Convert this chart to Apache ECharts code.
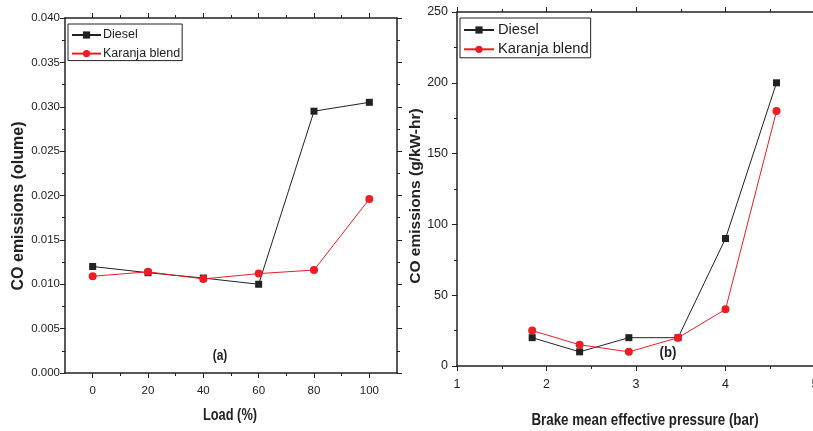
<!DOCTYPE html>
<html>
<head>
<meta charset="utf-8">
<script src="https://cdn.jsdelivr.net/npm/echarts@6/dist/echarts.min.js"></script>
<style>
  html, body { margin: 0; padding: 0; background: #fff; }
  #chart { width: 813px; height: 431px; }
</style>
</head>
<body>
<div id="chart"></div>
<script>
// Panel (a): CO emissions against engine load
const loadPct = [0, 20, 40, 60, 80, 100];
const coDieselA = [0.0120, 0.0113, 0.0107, 0.0100, 0.0295, 0.0305];
const coKaranjaA = [0.0109, 0.0114, 0.0106, 0.0112, 0.0116, 0.0196];
const loadTicks = [0, 20, 40, 60, 80, 100];
const loadMinorTicks = [10, 30, 50, 70, 90];

// Panel (b): CO emissions against brake mean effective pressure
const bmep = [1.84, 2.37, 2.92, 3.47, 4.00, 4.57];
const coDieselB = [20, 10, 20, 20, 90, 200];
const coKaranjaB = [25, 15, 10, 20, 40, 180];

const seriesNames = ['Diesel', 'Karanja blend'];

const INK = '#222';
const RED = '#ee1c25';
const SANS = '"Liberation Sans", Arial, sans-serif';

const zip = (xs, ys) => xs.map((x, i) => [x, ys[i]]);

const lineAxis = { show: true, onZero: false, lineStyle: { color: INK, width: 1.5 } };
const tickStyle = { color: INK, width: 1 };
const labelStyle = { color: INK, fontFamily: SANS, fontSize: 11.5 };

const chart = echarts.init(document.getElementById('chart'), null, { renderer: 'canvas' });

chart.setOption({
  animation: false,
  backgroundColor: '#fff',
  grid: [
    { left: 65, top: 18, width: 332, height: 355, outerBoundsMode: 'none', containLabel: false },
    { left: 457, top: 12, width: 358, height: 354, outerBoundsMode: 'none', containLabel: false }
  ],
  xAxis: [
    { // (a) bottom, labelled
      gridIndex: 0, type: 'value', position: 'bottom', min: -10, max: 110,
      axisLine: lineAxis,
      axisTick: { show: true, customValues: loadTicks, length: 5, lineStyle: tickStyle },
      axisLabel: Object.assign({ customValues: loadTicks, margin: 12 }, labelStyle),
      splitLine: { show: false }
    },
    { // (a) bottom, minor ticks
      gridIndex: 0, type: 'value', position: 'bottom', min: -10, max: 110,
      axisLine: { show: false, onZero: false },
      axisTick: { show: true, customValues: loadMinorTicks, length: 3, lineStyle: tickStyle },
      axisLabel: { show: false }, splitLine: { show: false }
    },
    { // (a) top frame
      gridIndex: 0, type: 'value', position: 'top', min: -10, max: 110,
      axisLine: lineAxis,
      axisTick: { show: true, customValues: loadTicks, length: 5, lineStyle: tickStyle },
      axisLabel: { show: false }, splitLine: { show: false }
    },
    { // (a) top minor ticks
      gridIndex: 0, type: 'value', position: 'top', min: -10, max: 110,
      axisLine: { show: false, onZero: false },
      axisTick: { show: true, customValues: loadMinorTicks, length: 3, lineStyle: tickStyle },
      axisLabel: { show: false }, splitLine: { show: false }
    },
    { // (b) bottom, labelled
      gridIndex: 1, type: 'value', position: 'bottom', min: 1, max: 5, interval: 1,
      axisLine: lineAxis,
      axisTick: { show: true, length: 5, lineStyle: tickStyle },
      minorTick: { show: true, splitNumber: 2, length: 3, lineStyle: tickStyle },
      axisLabel: Object.assign({ margin: 12 }, labelStyle, { fontSize: 12.5 }),
      splitLine: { show: false }
    },
    { // (b) top frame
      gridIndex: 1, type: 'value', position: 'top', min: 1, max: 5, interval: 1,
      axisLine: lineAxis,
      axisTick: { show: true, length: 5, lineStyle: tickStyle },
      minorTick: { show: true, splitNumber: 2, length: 3, lineStyle: tickStyle },
      axisLabel: { show: false }, splitLine: { show: false }
    }
  ],
  yAxis: [
    { // (a) left, labelled
      gridIndex: 0, type: 'value', position: 'left', min: 0, max: 0.04, interval: 0.005,
      axisLine: lineAxis,
      axisTick: { show: true, length: 5, lineStyle: tickStyle },
      minorTick: { show: true, splitNumber: 2, length: 3, lineStyle: tickStyle },
      axisLabel: Object.assign({ margin: 5, formatter: v => v.toFixed(3) }, labelStyle),
      splitLine: { show: false }
    },
    { // (a) right frame
      gridIndex: 0, type: 'value', position: 'right', min: 0, max: 0.04, interval: 0.005,
      axisLine: lineAxis,
      axisTick: { show: true, length: 5, lineStyle: tickStyle },
      minorTick: { show: true, splitNumber: 2, length: 3, lineStyle: tickStyle },
      axisLabel: { show: false }, splitLine: { show: false }
    },
    { // (b) left, labelled
      gridIndex: 1, type: 'value', position: 'left', min: 0, max: 250, interval: 50,
      axisLine: lineAxis,
      axisTick: { show: true, length: 5, lineStyle: tickStyle },
      minorTick: { show: true, splitNumber: 2, length: 3, lineStyle: tickStyle },
      axisLabel: Object.assign({ margin: 9 }, labelStyle, { fontSize: 12.5 }),
      splitLine: { show: false }
    }
  ],
  legend: [
    {
      orient: 'vertical', left: 68, top: 24, data: seriesNames,
      itemWidth: 29, itemHeight: 9, itemGap: 4.6,
      padding: [4, 2, 0, 3],
      borderColor: INK, borderWidth: 1,
      textStyle: { fontFamily: SANS, fontSize: 12.5, lineHeight: 14, color: INK, padding: [0, 0, 0, -3] }
    },
    {
      orient: 'vertical', left: 460, top: 18, data: seriesNames,
      itemWidth: 30, itemHeight: 9, itemGap: 4.3,
      padding: [4.5, 2, 1, 3],
      borderColor: INK, borderWidth: 1,
      textStyle: { fontFamily: SANS, fontSize: 14.7, lineHeight: 14, color: INK, padding: [0, 0, 0, -1] }
    }
  ],
  series: [
    {
      name: seriesNames[0], type: 'line', xAxisIndex: 0, yAxisIndex: 0,
      data: zip(loadPct, coDieselA),
      symbol: 'rect', symbolSize: 7,
      lineStyle: { color: INK, width: 1 }, itemStyle: { color: INK }
    },
    {
      name: seriesNames[1], type: 'line', xAxisIndex: 0, yAxisIndex: 0,
      data: zip(loadPct, coKaranjaA),
      symbol: 'circle', symbolSize: 8,
      lineStyle: { color: RED, width: 1 }, itemStyle: { color: RED }
    },
    {
      name: seriesNames[0], type: 'line', xAxisIndex: 4, yAxisIndex: 2,
      data: zip(bmep, coDieselB),
      symbol: 'rect', symbolSize: 7,
      lineStyle: { color: INK, width: 1 }, itemStyle: { color: INK }
    },
    {
      name: seriesNames[1], type: 'line', xAxisIndex: 4, yAxisIndex: 2,
      data: zip(bmep, coKaranjaB),
      symbol: 'circle', symbolSize: 8,
      lineStyle: { color: RED, width: 1 }, itemStyle: { color: RED }
    }
  ],
  graphic: [
    { type: 'text', x: 19, y: 206, rotation: Math.PI / 2,
      style: { text: 'CO emissions (olume)', font: 'bold 16px ' + SANS, fill: INK, align: 'center', verticalAlign: 'middle' } },
    { type: 'text', x: 416, y: 196, rotation: Math.PI / 2,
      style: { text: 'CO emissions (g/kW-hr)', font: 'bold 15.5px ' + SANS, fill: INK, align: 'center', verticalAlign: 'middle' } },
    { type: 'text', x: 230, y: 416, scaleX: 0.8,
      style: { text: 'Load (%)', font: 'bold 16px ' + SANS, fill: INK, align: 'center', verticalAlign: 'middle' } },
    { type: 'text', x: 645, y: 421, scaleX: 0.835,
      style: { text: 'Brake mean effective pressure (bar)', font: 'bold 16px ' + SANS, fill: INK, align: 'center', verticalAlign: 'middle' } },
    { type: 'text', x: 220, y: 356, scaleX: 0.85,
      style: { text: '(a)', font: 'bold 14px ' + SANS, fill: INK, align: 'center', verticalAlign: 'middle' } },
    { type: 'text', x: 668, y: 353, scaleX: 0.88,
      style: { text: '(b)', font: 'bold 15px ' + SANS, fill: INK, align: 'center', verticalAlign: 'middle' } }
  ]
});
</script>
</body>
</html>
